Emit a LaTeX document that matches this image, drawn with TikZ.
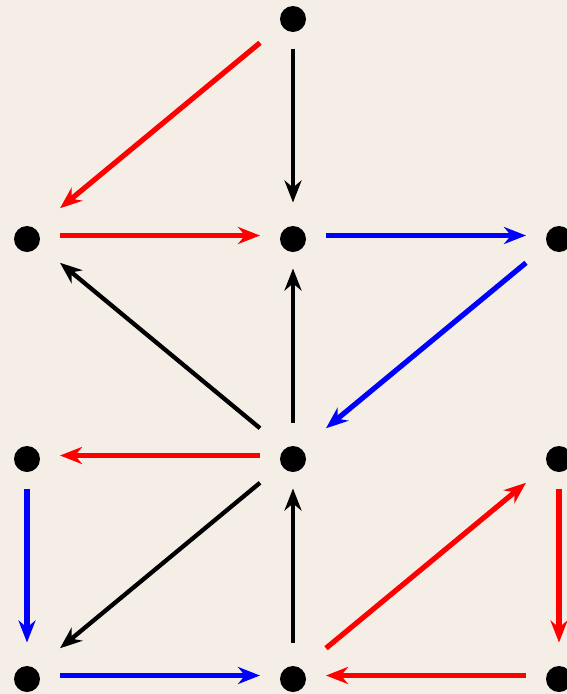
\documentclass[tikz,border=0pt]{standalone}
\usetikzlibrary{arrows.meta}
\definecolor{bg}{HTML}{F4EEE6}
\begin{document}
\begin{tikzpicture}[x=1pt,y=-1pt,
  vert/.style={rectangle, minimum size=66pt, inner sep=0pt, outer sep=0pt,
    path picture={\fill[black] ([yshift=-3.5pt]path picture bounding box.center) circle (13pt);}},
  arr/.style={line width=5.2pt, -{Stealth[length=22pt,width=17pt,inset=7pt]}},
  r/.style={arr, draw=red},
  b/.style={arr, draw=blue},
  k/.style={arr, draw=black, line width=4.3pt}]
\useasboundingbox (0,0) rectangle (567,694);
\fill[bg] (0,0) rectangle (567,694);
\node[vert] (t) at (293,15.5) {};
\node[vert] (a1) at (27,235.5) {};
\node[vert] (a2) at (293,235.5) {};
\node[vert] (a3) at (559,235.5) {};
\node[vert] (b1) at (27,455.5) {};
\node[vert] (b2) at (293,455.5) {};
\node[vert] (b3) at (559,455.5) {};
\node[vert] (c1) at (27,675.5) {};
\node[vert] (c2) at (293,675.5) {};
\node[vert] (c3) at (559,675.5) {};
\draw[r] (t) -- (a1);
\draw[k] (t) -- (a2);
\draw[r] (a1) -- (a2);
\draw[b] (a2) -- (a3);
\draw[b] (a3) -- (b2);
\draw[k] (b2) -- (a1);
\draw[k] (b2) -- (a2);
\draw[r] (b2) -- (b1);
\draw[k] (b2) -- (c1);
\draw[b] (b1) -- (c1);
\draw[b] (c1) -- (c2);
\draw[k] (c2) -- (b2);
\draw[r] (c2) -- (b3);
\draw[r] (b3) -- (c3);
\draw[r] (c3) -- (c2);
\end{tikzpicture}
\end{document}
